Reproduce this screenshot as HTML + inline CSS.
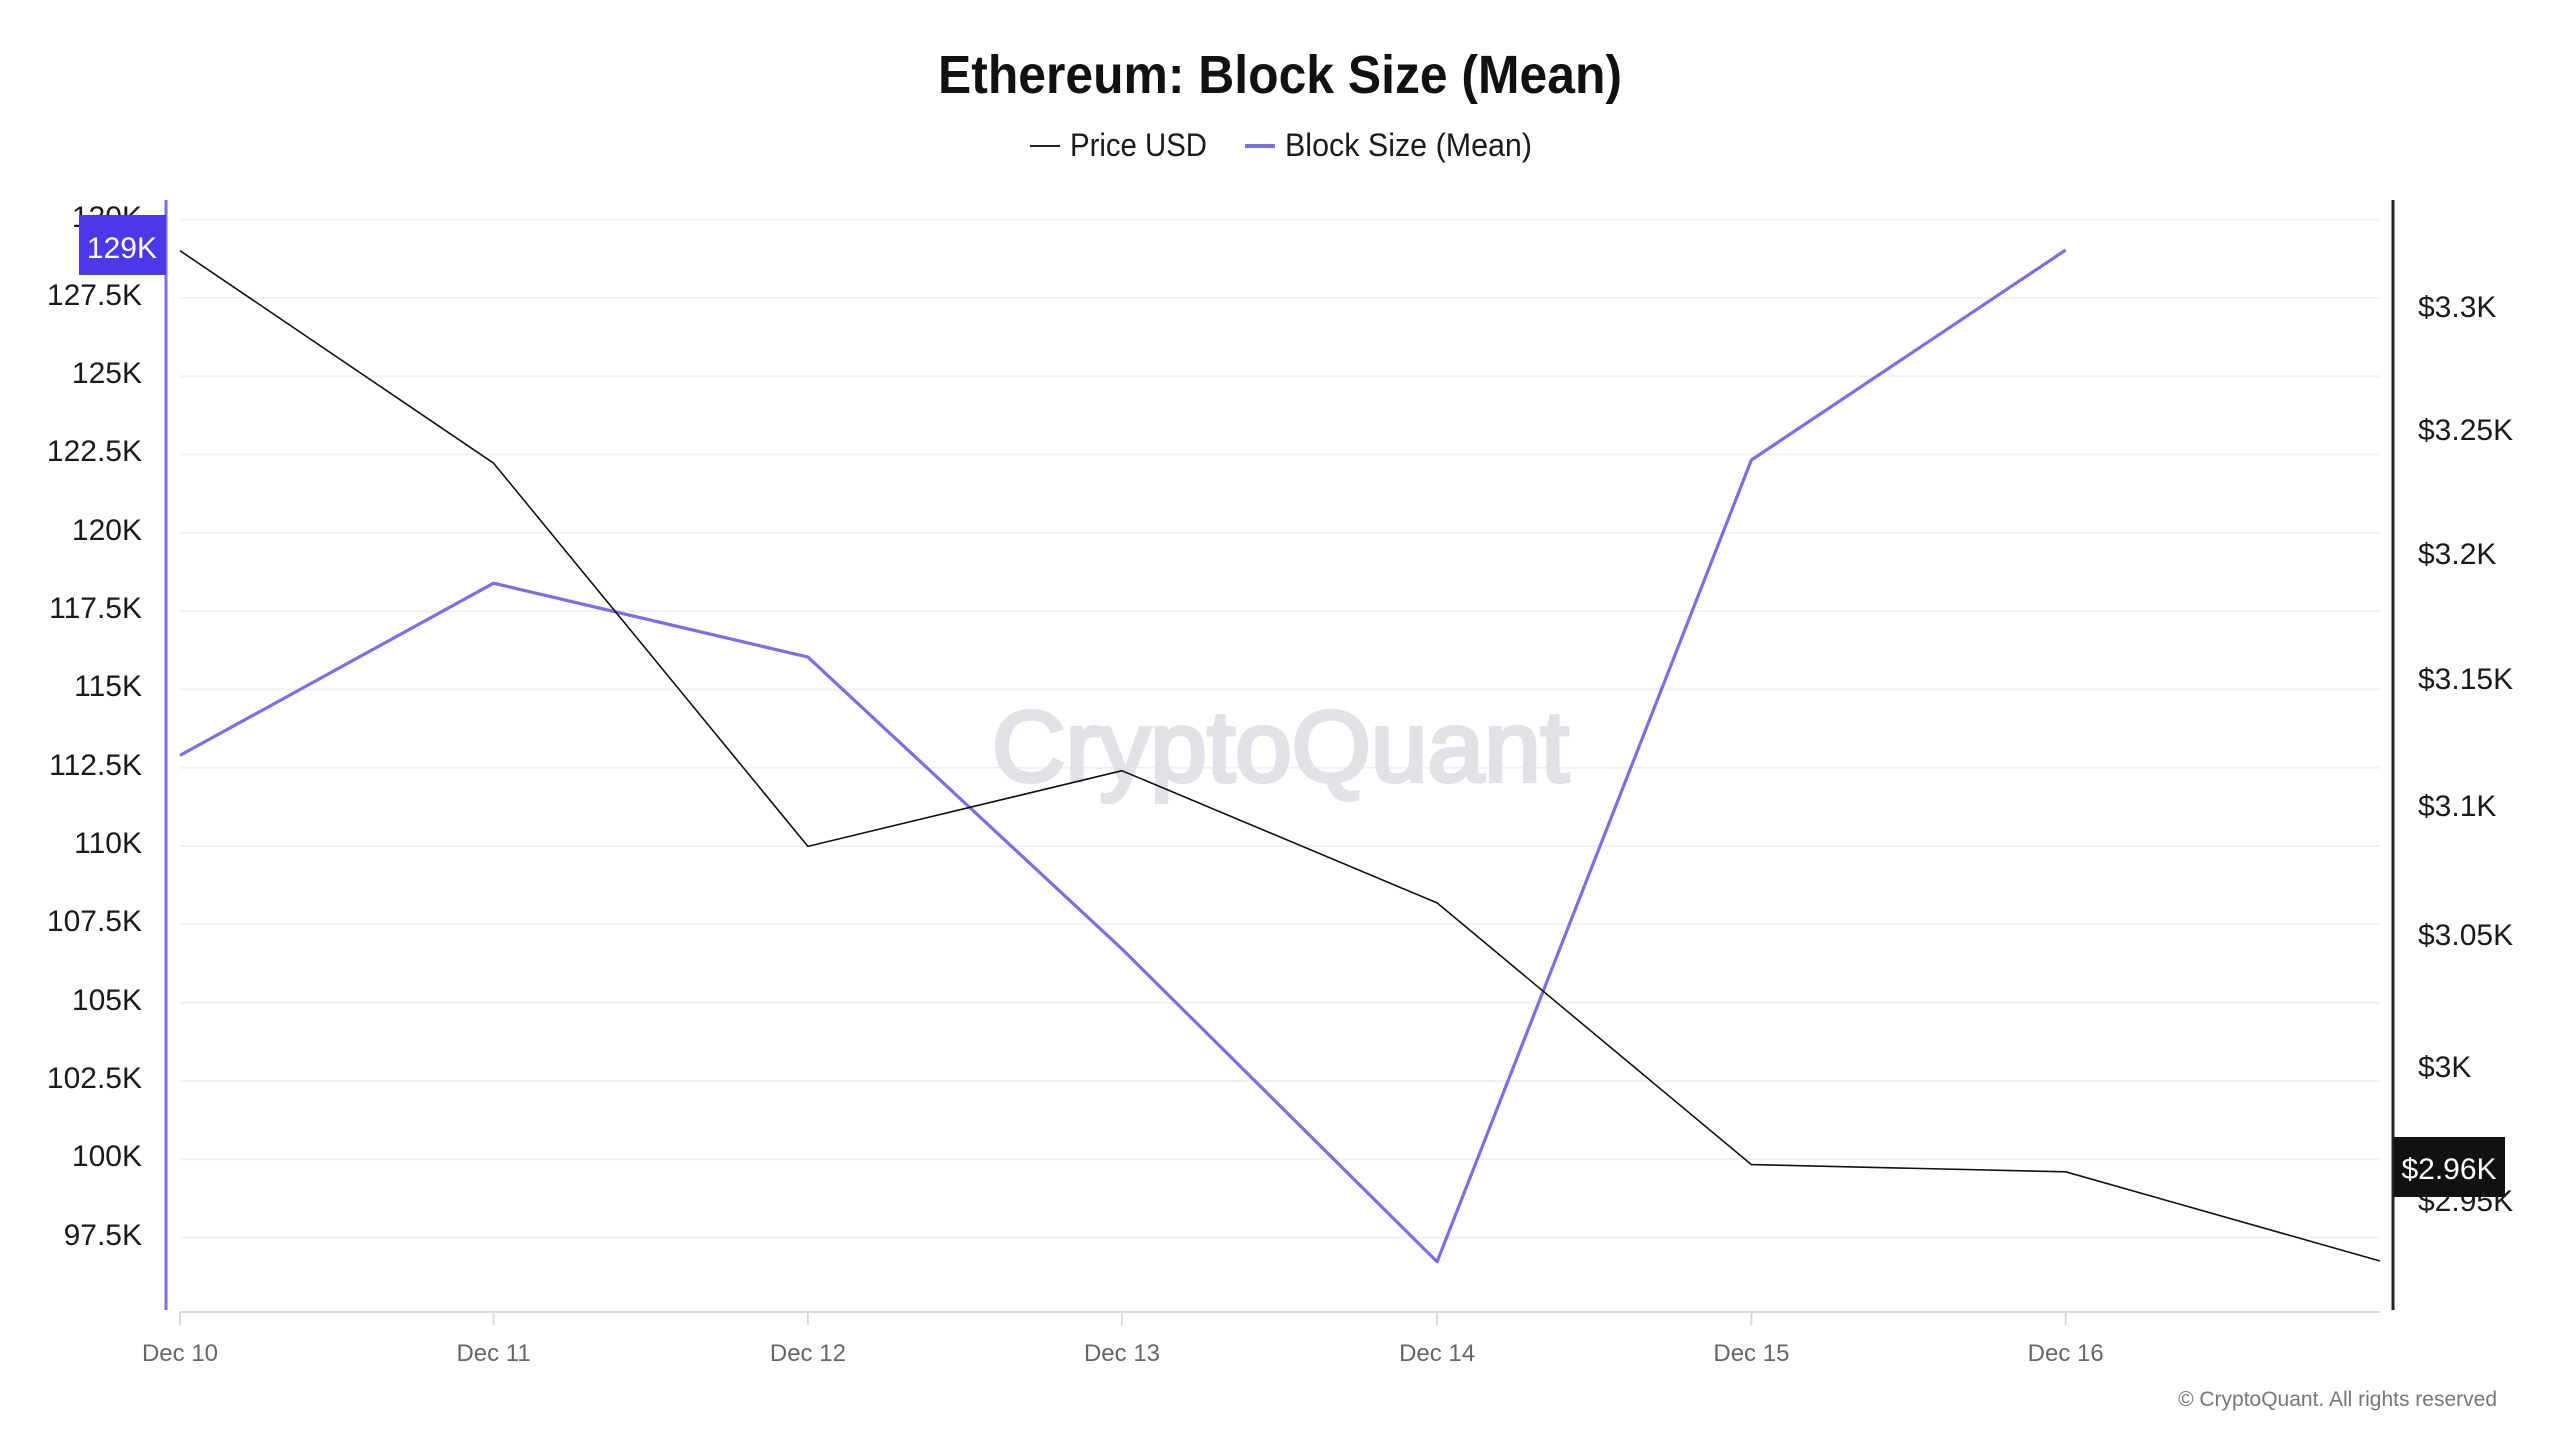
<!DOCTYPE html>
<html>
<head>
<meta charset="utf-8">
<style>
html,body{margin:0;padding:0;background:#fff;}
svg{display:block;}
text{font-family:"Liberation Sans",Arial,sans-serif;}
</style>
</head>
<body>
<svg width="2560" height="1440" viewBox="0 0 2560 1440" xmlns="http://www.w3.org/2000/svg">
<rect width="2560" height="1440" fill="#ffffff"/>

<!-- Title -->
<text x="938" y="93" font-size="54" font-weight="bold" fill="#111" textLength="684" lengthAdjust="spacingAndGlyphs">Ethereum: Block Size (Mean)</text>

<!-- Legend -->
<line x1="1030" y1="146" x2="1060" y2="146" stroke="#222" stroke-width="2"/>
<text x="1070" y="156" font-size="32" fill="#1a1a1a" textLength="137" lengthAdjust="spacingAndGlyphs">Price USD</text>
<line x1="1245" y1="146" x2="1275" y2="146" stroke="#7b6ee6" stroke-width="4"/>
<text x="1285" y="156" font-size="32" fill="#1a1a1a" textLength="247" lengthAdjust="spacingAndGlyphs">Block Size (Mean)</text>

<!-- Gridlines -->
<g stroke="#f1f1f3" stroke-width="2">
<line x1="180" y1="219.6" x2="2380" y2="219.6"/>
<line x1="180" y1="297.9" x2="2380" y2="297.9"/>
<line x1="180" y1="376.2" x2="2380" y2="376.2"/>
<line x1="180" y1="454.5" x2="2380" y2="454.5"/>
<line x1="180" y1="532.8" x2="2380" y2="532.8"/>
<line x1="180" y1="611.1" x2="2380" y2="611.1"/>
<line x1="180" y1="689.4" x2="2380" y2="689.4"/>
<line x1="180" y1="767.7" x2="2380" y2="767.7"/>
<line x1="180" y1="846.0" x2="2380" y2="846.0"/>
<line x1="180" y1="924.3" x2="2380" y2="924.3"/>
<line x1="180" y1="1002.6" x2="2380" y2="1002.6"/>
<line x1="180" y1="1080.9" x2="2380" y2="1080.9"/>
<line x1="180" y1="1159.2" x2="2380" y2="1159.2"/>
<line x1="180" y1="1237.5" x2="2380" y2="1237.5"/>
</g>

<!-- Watermark -->
<text x="992" y="781" font-size="100" fill="#e1e1e7" stroke="#e1e1e7" stroke-width="4" textLength="577" lengthAdjust="spacingAndGlyphs">CryptoQuant</text>

<!-- X axis -->
<line x1="180" y1="1312" x2="2380" y2="1312" stroke="#d8d8e2" stroke-width="2"/>
<g stroke="#d8d8e2" stroke-width="2">
<line x1="180" y1="1312" x2="180" y2="1325"/>
<line x1="493.6" y1="1312" x2="493.6" y2="1325"/>
<line x1="807.9" y1="1312" x2="807.9" y2="1325"/>
<line x1="1122" y1="1312" x2="1122" y2="1325"/>
<line x1="1437.1" y1="1312" x2="1437.1" y2="1325"/>
<line x1="1751.4" y1="1312" x2="1751.4" y2="1325"/>
<line x1="2065.7" y1="1312" x2="2065.7" y2="1325"/>
</g>
<g font-size="24" fill="#666" text-anchor="middle">
<text x="180" y="1361">Dec 10</text>
<text x="493.6" y="1361">Dec 11</text>
<text x="807.9" y="1361">Dec 12</text>
<text x="1122" y="1361">Dec 13</text>
<text x="1437.1" y="1361">Dec 14</text>
<text x="1751.4" y="1361">Dec 15</text>
<text x="2065.7" y="1361">Dec 16</text>
</g>

<!-- Left axis labels -->
<g font-size="30" fill="#1a1a1a" text-anchor="end">
<text x="142" y="227">130K</text>
<text x="142" y="305">127.5K</text>
<text x="142" y="383">125K</text>
<text x="142" y="461">122.5K</text>
<text x="142" y="540">120K</text>
<text x="142" y="618">117.5K</text>
<text x="142" y="696">115K</text>
<text x="142" y="775">112.5K</text>
<text x="142" y="853">110K</text>
<text x="142" y="931">107.5K</text>
<text x="142" y="1010">105K</text>
<text x="142" y="1088">102.5K</text>
<text x="142" y="1166">100K</text>
<text x="142" y="1245">97.5K</text>
</g>

<!-- Right axis labels -->
<g font-size="30" fill="#1a1a1a">
<text x="2418" y="317">$3.3K</text>
<text x="2418" y="440">$3.25K</text>
<text x="2418" y="564">$3.2K</text>
<text x="2418" y="689">$3.15K</text>
<text x="2418" y="816">$3.1K</text>
<text x="2418" y="945">$3.05K</text>
<text x="2418" y="1077">$3K</text>
<text x="2418" y="1211">$2.95K</text>
</g>

<!-- Axes lines -->
<line x1="166" y1="200" x2="166" y2="1310" stroke="#7b6ee6" stroke-width="3"/>
<line x1="2393" y1="200" x2="2393" y2="1310" stroke="#222" stroke-width="3"/>

<!-- Block Size series -->
<polyline fill="none" stroke="#7b6ee6" stroke-width="3.2" stroke-linejoin="round"
points="180,755.4 493.6,583.2 807.9,657.1 1122,949 1437.1,1261.8 1751.4,460 2065.7,250"/>

<!-- Price series -->
<polyline fill="none" stroke="#111" stroke-width="1.6" stroke-linejoin="round"
points="180,250.7 493.6,463.2 807.9,846.4 1122,770.7 1437.1,902.9 1751.4,1164.6 2065.7,1171.8 2380,1261"/>

<!-- Left value box -->
<rect x="79" y="215" width="87" height="60" fill="#4b38e8"/>
<text x="157" y="258" font-size="30" fill="#fff" text-anchor="end">129K</text>

<!-- Right value box -->
<rect x="2394" y="1137" width="111" height="60" fill="#111"/>
<text x="2449" y="1179" font-size="30" fill="#fff" text-anchor="middle">$2.96K</text>

<!-- Copyright -->
<text x="2497" y="1406" font-size="21" fill="#777" text-anchor="end">© CryptoQuant. All rights reserved</text>
</svg>
</body>
</html>
